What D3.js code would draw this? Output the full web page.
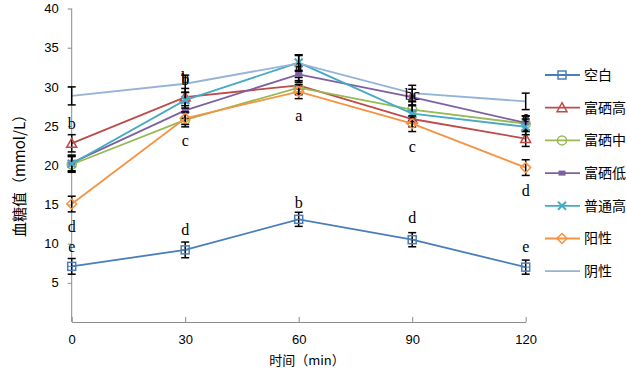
<!DOCTYPE html>
<html><head><meta charset="utf-8">
<script src="https://cdn.jsdelivr.net/npm/d3@7"></script>
<style>
html,body{margin:0;padding:0;background:#fff;}
svg{display:block;}
</style></head>
<body>
<svg id="chart" width="627" height="370"></svg>
<script>
// ---- data ----
const times = [0, 30, 60, 90, 120];
const seriesNames = ["空白", "富硒高", "富硒中", "富硒低", "普通高", "阳性", "阴性"];
const seriesColors = ["#4A7EBB", "#BE4B48", "#98B954", "#7D60A0", "#46AAC5", "#F69240", "#95B3D7"];
const seriesMarkers = ["square", "triangle", "circle", "dash", "cross", "diamond", "none"];
const blank      = [7.1, 9.2, 13.1, 10.5, 7.0];
const seHigh     = [22.8, 28.7, 30.2, 25.9, 23.4];
const seMid      = [20.1, 25.8, 29.9, 27.1, 25.3];
const seLow      = [20.3, 27.0, 31.6, 28.7, 25.4];
const normHigh   = [20.2, 28.3, 33.1, 26.6, 24.9];
const positive   = [15.05, 26.0, 29.4, 25.3, 19.7];
const negative   = [28.85, 30.4, 33.0, 29.2, 28.15];
const blankErr    = [1.0, 1.0, 0.9, 0.9, 0.9];
const seHighErr   = [1.1, 1.1, 1.0, 1.0, 1.0];
const seMidErr    = [1.0, 0.9, 0.9, 1.0, 1.0];
const seLowErr    = [1.0, 1.0, 1.0, 1.0, 0.9];
const normHighErr = [1.0, 1.0, 1.0, 1.0, 1.0];
const positiveErr = [1.0, 0.8, 0.9, 1.0, 1.0];
const negativeErr = [1.15, 1.1, 1.0, 1.0, 1.05];
const yTicks = [5, 10, 15, 20, 25, 30, 35, 40];
const xTicks = [0, 30, 60, 90, 120];
// significance letters: time, letter, y value (data units)
const letterTimes  = [0, 0, 0, 30, 30, 30, 30, 60, 60, 60, 90, 90, 90, 120, 120, 120];
const letterTexts  = ["b", "d", "e", "b", "b", "c", "d", "a", "a", "b", "bc", "c", "d", "e", "d", "e"];
const letterValues = [25.4, 12.2, 9.7, 31.2, 31.0, 23.2, 11.8, 32.7, 26.4, 15.3, 29.0, 22.4, 13.3, 26.2, 16.8, 9.6];
const xTitle = "时间（min）";
const yTitle = "血糖值（mmol/L）";

const allValues = [blank, seHigh, seMid, seLow, normHigh, positive, negative];
const allErrors = [blankErr, seHighErr, seMidErr, seLowErr, normHighErr, positiveErr, negativeErr];

// ---- drawing ----
const svg = d3.select("#chart");
const x = d3.scaleLinear().domain([0, 120]).range([71.7, 525.7]);
const y = d3.scaleLinear().domain([0, 40]).range([322, 8.5]);
const axisColor = "#8C8C8C";
const numFont = "'Liberation Sans', Arial, sans-serif";
const cjkFont = "'Noto Sans CJK SC', sans-serif";

// y axis
const yAxis = svg.append("g").attr("transform", `translate(${x(0)},0)`)
  .call(d3.axisLeft(y).tickValues(yTicks).tickSize(4).tickPadding(9));
yAxis.select(".domain").attr("stroke", axisColor).attr("d", `M0,${y(0)}V${y(40)}`);
yAxis.selectAll(".tick line").attr("stroke", axisColor);
yAxis.selectAll(".tick text").attr("fill", "#000").style("font-family", numFont).style("font-size", "13px");

// x axis (ticks inside)
const xAxis = svg.append("g").attr("transform", `translate(0,${y(0)})`)
  .call(d3.axisBottom(x).tickValues(xTicks).tickSizeInner(-5).tickSizeOuter(0).tickPadding(13));
xAxis.select(".domain").attr("stroke", axisColor);
xAxis.selectAll(".tick line").attr("stroke", axisColor);
xAxis.selectAll(".tick text").attr("fill", "#000").style("font-family", numFont).style("font-size", "13px");

// titles
svg.append("text").attr("x", 307).attr("y", 365).attr("text-anchor", "middle")
  .style("font-family", cjkFont).style("font-size", "13px").text(xTitle);
svg.append("text").attr("transform", "translate(25,172) rotate(-90)").attr("text-anchor", "middle")
  .style("font-family", cjkFont).style("font-size", "15px").text(yTitle);

const line = d3.line().x((d, i) => x(times[i])).y(d => y(d));

function drawMarker(g, type, cx, cy, color) {
  if (type === "square") {
    g.append("rect").attr("x", cx - 4).attr("y", cy - 4).attr("width", 8).attr("height", 8)
      .attr("fill", "none").attr("stroke", color).attr("stroke-width", 1.5);
    g.append("line").attr("x1", cx - 4).attr("x2", cx + 4).attr("y1", cy).attr("y2", cy).attr("stroke", color).attr("stroke-width", 1);
  } else if (type === "triangle") {
    g.append("path").attr("d", `M${cx},${cy - 5}L${cx + 5},${cy + 4}L${cx - 5},${cy + 4}Z`)
      .attr("fill", "none").attr("stroke", color).attr("stroke-width", 1.5);
  } else if (type === "circle") {
    g.append("circle").attr("cx", cx).attr("cy", cy).attr("r", 4.5)
      .attr("fill", "none").attr("stroke", color).attr("stroke-width", 1.5);
  } else if (type === "dash") {
    g.append("rect").attr("x", cx - 3.5).attr("y", cy - 2.5).attr("width", 7).attr("height", 5).attr("fill", color);
  } else if (type === "cross") {
    g.append("path").attr("d", `M${cx - 4},${cy - 4}L${cx + 4},${cy + 4}M${cx - 4},${cy + 4}L${cx + 4},${cy - 4}`)
      .attr("stroke", color).attr("stroke-width", 2);
  } else if (type === "diamond") {
    g.append("path").attr("d", `M${cx},${cy - 5}L${cx + 5},${cy}L${cx},${cy + 5}L${cx - 5},${cy}Z`)
      .attr("fill", "none").attr("stroke", color).attr("stroke-width", 1.5);
  }
}

allValues.forEach((vals, si) => {
  const g = svg.append("g");
  const color = seriesColors[si];
  g.append("path").datum(vals).attr("d", line).attr("fill", "none")
    .attr("stroke", color).attr("stroke-width", 1.8);
  vals.forEach((v, i) => {
    const e = allErrors[si][i];
    const cx = x(times[i]);
    const eg = g.append("g").attr("stroke", "#000").attr("stroke-width", 1.5);
    eg.append("line").attr("x1", cx).attr("x2", cx).attr("y1", y(v - e)).attr("y2", y(v + e));
    eg.append("line").attr("x1", cx - 4).attr("x2", cx + 4).attr("y1", y(v + e)).attr("y2", y(v + e));
    eg.append("line").attr("x1", cx - 4).attr("x2", cx + 4).attr("y1", y(v - e)).attr("y2", y(v - e));
  });
  vals.forEach((v, i) => drawMarker(g, seriesMarkers[si], x(times[i]), y(v), color));
});

// significance letters
letterTexts.forEach((t, i) => {
  svg.append("text").attr("x", x(letterTimes[i])).attr("y", y(letterValues[i]))
    .attr("dy", "0.35em").attr("text-anchor", "middle")
    .style("font-family", "'Liberation Serif', 'Times New Roman', serif").style("font-size", "16px")
    .text(t);
});

// legend
const legend = svg.append("g");
seriesNames.forEach((name, i) => {
  const ly = 75 + i * 32.7;
  const lg = legend.append("g");
  lg.append("line").attr("x1", 545).attr("x2", 580).attr("y1", ly).attr("y2", ly)
    .attr("stroke", seriesColors[i]).attr("stroke-width", 1.8);
  drawMarker(lg, seriesMarkers[i], 562, ly, seriesColors[i]);
  lg.append("text").attr("x", 584).attr("y", ly).attr("dy", "0.35em")
    .style("font-family", cjkFont).style("font-size", "14px").text(name);
});
</script>
</body></html>
